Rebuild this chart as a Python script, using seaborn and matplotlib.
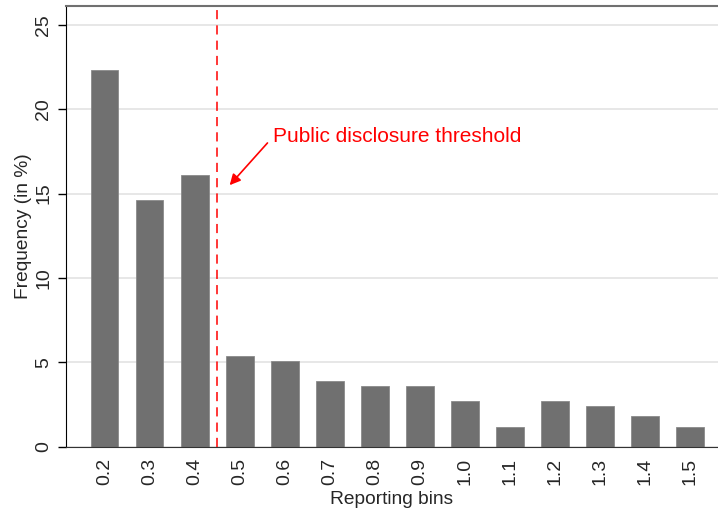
import pandas as pd
import seaborn as sns
import matplotlib.pyplot as plt

# reporting bins and frequency (in %)
bins = ["0.2", "0.3", "0.4", "0.5", "0.6", "0.7", "0.8", "0.9",
        "1.0", "1.1", "1.2", "1.3", "1.4", "1.5"]
freq = [22.3, 14.6, 16.1, 5.4, 5.1, 3.9, 3.6, 3.6, 2.7, 1.2, 2.7, 2.4, 1.8, 1.2]
threshold_pos = 2.5  # between 0.4 and 0.5

df = pd.DataFrame({"bin": bins, "freq": freq})

sns.set_style("white")
plt.rcParams["font.family"] = ["Liberation Sans", "DejaVu Sans"]

fig = plt.figure(figsize=(7.18, 5.16), dpi=100)
ax = fig.add_axes([0.092, 0.134, 0.908, 0.854])

sns.barplot(data=df, x="bin", y="freq", color="#707070", saturation=1,
            width=0.62, edgecolor="#8a8a8a", linewidth=0.6, ax=ax, zorder=2)

ax.set_xlim(-0.855, 13.63)
ax.set_ylim(0, 26.1)
ax.set_yticks([0, 5, 10, 15, 20, 25])
ax.yaxis.grid(True, color="#e3e3e3", linewidth=1.2, zorder=0)
ax.set_axisbelow(True)

# threshold line and annotation
ax.axvline(threshold_pos, color="red", linestyle=(0, (6, 4)), linewidth=1.1, zorder=3)
ax.text(3.74, 18.4, "Public disclosure threshold", color="red", fontsize=15,
        va="center", ha="left")
ax.annotate("", xy=(2.78, 15.5), xytext=(3.62, 18.0),
            arrowprops=dict(arrowstyle="-|>", color="red", lw=1.2,
                            mutation_scale=16, shrinkA=0, shrinkB=0))

ax.set_xlabel("Reporting bins", fontsize=13.8, labelpad=4)
ax.set_ylabel("Frequency (in %)", fontsize=13.8, labelpad=2)
ax.tick_params(axis="x", labelrotation=90, labelsize=14, length=0, pad=8)
ax.tick_params(axis="y", labelrotation=90, labelsize=14, length=6, width=1,
               color="black", left=True, pad=4)
for lab in ax.get_yticklabels():
    lab.set_va("center")

ax.spines["left"].set_color("black")
ax.spines["bottom"].set_color("#333333")
ax.spines["top"].set_color("#707070")
ax.spines["top"].set_linewidth(1.5)
ax.spines["right"].set_visible(False)

plt.savefig("out.png", dpi=100)
